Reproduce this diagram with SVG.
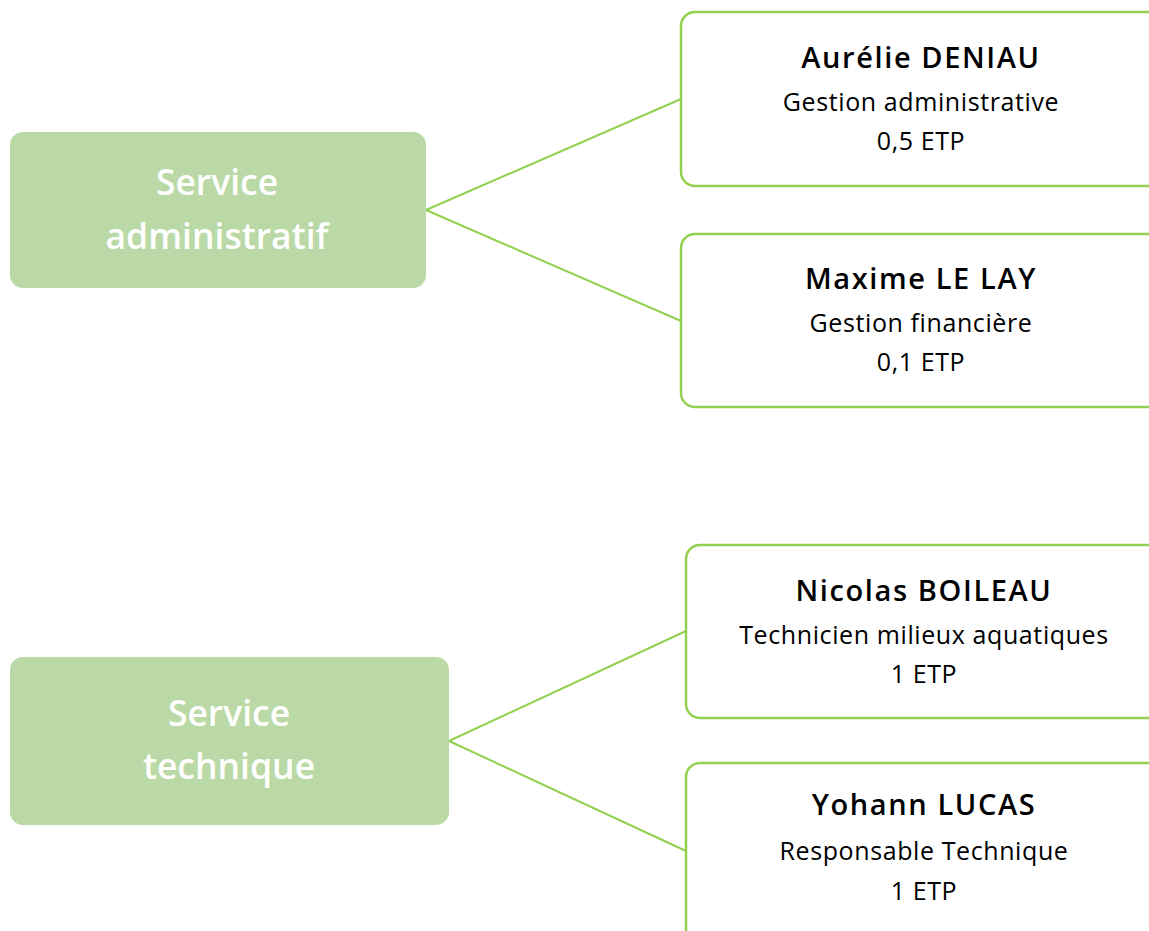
<svg xmlns="http://www.w3.org/2000/svg" width="1149" height="931" viewBox="0 0 1149 931">
<style>
.svc{fill:#BAD9A6;}
.svct{fill:#FFFFFF;font-family:"Open Sans","Liberation Sans",sans-serif;font-size:35.5px;font-weight:600;text-anchor:middle;}
.per{fill:#FFFFFF;stroke:#92D050;stroke-width:2.5;}
.nm{fill:#000;font-family:"Open Sans","Liberation Sans",sans-serif;font-size:29px;font-weight:600;letter-spacing:1.6px;text-anchor:middle;}
.tx{fill:#000;font-family:"Open Sans","Liberation Sans",sans-serif;font-size:25px;letter-spacing:0.6px;text-anchor:middle;}
.con{stroke:#92D050;stroke-width:2;fill:none;}
</style>
<rect width="1149" height="931" fill="#FFFFFF"/>
<g id="connectors">
<line class="con" x1="426" y1="210" x2="681" y2="99"/>
<line class="con" x1="426" y1="210" x2="681" y2="321"/>
<line class="con" x1="449" y1="741" x2="686" y2="631"/>
<line class="con" x1="449" y1="741" x2="686" y2="851"/>
</g>
<g id="svc-admin">
<rect class="svc" x="10" y="132" width="416" height="156" rx="13"/>
<text class="svct" x="217" y="195">Service</text>
<text class="svct" x="217" y="249">administratif</text>
</g>
<g id="svc-tech">
<rect class="svc" x="10" y="657" width="439" height="168" rx="13"/>
<text class="svct" x="229" y="726">Service</text>
<text class="svct" x="229" y="779">technique</text>
</g>
<g id="p-deniau">
<rect class="per" x="681" y="12" width="490" height="174" rx="14"/>
<text class="nm" x="921" y="68">Aurélie DENIAU</text>
<text class="tx" x="921" y="111">Gestion administrative</text>
<text class="tx" x="921" y="150">0,5 ETP</text>
</g>
<g id="p-lelay">
<rect class="per" x="681" y="234" width="490" height="173" rx="14"/>
<text class="nm" x="921" y="289">Maxime LE LAY</text>
<text class="tx" x="921" y="332">Gestion financière</text>
<text class="tx" x="921" y="371">0,1 ETP</text>
</g>
<g id="p-boileau">
<rect class="per" x="686" y="545" width="490" height="173" rx="14"/>
<text class="nm" x="924" y="601">Nicolas BOILEAU</text>
<text class="tx" x="924" y="644">Technicien milieux aquatiques</text>
<text class="tx" x="924" y="683">1 ETP</text>
</g>
<g id="p-lucas">
<rect class="per" x="686" y="763" width="490" height="190" rx="14"/>
<text class="nm" x="924" y="815">Yohann LUCAS</text>
<text class="tx" x="924" y="860">Responsable Technique</text>
<text class="tx" x="924" y="900">1 ETP</text>
</g>
</svg>
